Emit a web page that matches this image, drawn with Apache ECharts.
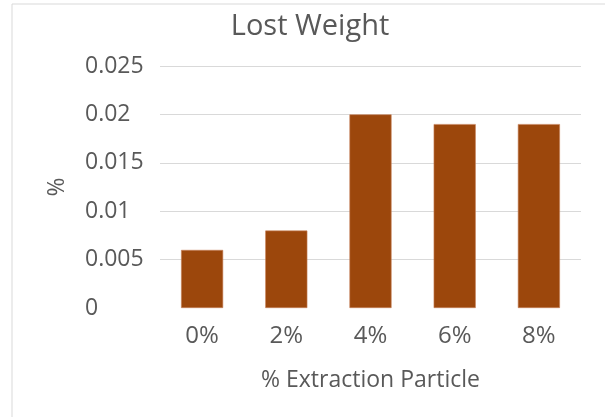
<!DOCTYPE html>
<html>
<head>
<meta charset="utf-8">
<script src="https://cdn.jsdelivr.net/npm/echarts@6/dist/echarts.min.js"></script>
<style>
  html, body { margin: 0; padding: 0; background: #fff; }
  #chart { width: 605px; height: 417px; }
</style>
</head>
<body>
<div id="chart"></div>
<script>
// Lost weight per extraction-particle content
const categories = ['0%', '2%', '4%', '6%', '8%'];
const lostWeight = [0.006, 0.008, 0.02, 0.019, 0.019];
const yTicks = [0, 0.005, 0.01, 0.015, 0.02, 0.025];

const textColor = '#595959';
const fontFamily = '"Open Sans", "Noto Sans", sans-serif';

const chart = echarts.init(document.getElementById('chart'), null, { renderer: 'canvas' });
chart.setOption({
  animation: false,
  textStyle: { fontFamily: fontFamily },
  graphic: [{
    type: 'rect',
    shape: { x: 12, y: 4, width: 620, height: 440 },
    style: { fill: 'none', stroke: '#d9d9d9', lineWidth: 1 },
    silent: true,
    z: -1
  }],
  title: {
    text: 'Lost Weight',
    left: 305,
    top: 7,
    textAlign: 'center',
    textStyle: { color: textColor, fontSize: 29, fontWeight: 'normal', fontFamily: fontFamily }
  },
  grid: { left: 160, right: 24, top: 66, bottom: 109, containLabel: false },
  xAxis: {
    type: 'category',
    data: categories,
    name: '% Extraction Particle',
    nameLocation: 'middle',
    nameGap: 61,
    nameTextStyle: { color: textColor, fontSize: 23, fontFamily: fontFamily },
    axisLine: { show: false },
    axisTick: { show: false },
    axisLabel: { color: textColor, fontSize: 24, margin: 16, fontFamily: fontFamily }
  },
  yAxis: {
    type: 'value',
    min: yTicks[0],
    max: yTicks[yTicks.length - 1],
    interval: 0.005,
    name: '%',
    nameLocation: 'middle',
    nameGap: 91,
    nameRotate: 90,
    nameTextStyle: { color: textColor, fontSize: 23, fontFamily: fontFamily },
    axisLine: { show: false },
    axisTick: { show: false },
    splitLine: { showMinLine: false, lineStyle: { color: '#d9d9d9', width: 1 } },
    axisLabel: {
      color: textColor,
      fontSize: 23,
      margin: 15,
      align: 'left',
      padding: [0, 0, 0, -60],
      fontFamily: fontFamily,
      formatter: v => String(parseFloat(v.toFixed(3)))
    }
  },
  series: [{
    type: 'bar',
    data: lostWeight,
    barWidth: '50%',
    itemStyle: { color: '#9c470c', borderColor: '#c8825a', borderWidth: 0.6 }
  }]
});
</script>
</body>
</html>
